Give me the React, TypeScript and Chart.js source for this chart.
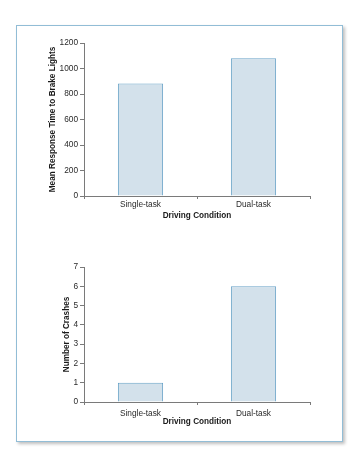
import React, { useEffect, useRef } from "react";
import { Chart, registerables } from "chart.js";

Chart.register(...registerables);

const categories = ["Single-task", "Dual-task"];
const responseTimes = [882, 1080];
const crashes = [1, 6];
const xTitle = "Driving Condition";
const yTitleTop = "Mean Response Time to Brake Lights";
const yTitleBottom = "Number of Crashes";

const FONT = "'Liberation Sans', Arial, Helvetica, sans-serif";

type BoxProps = {
  values: number[];
  yTitle: string;
  yMax: number;
  yStep: number;
  top: number;
  height: number;
  padLeft: number;
  padTop: number;
  padBottom: number;
  yWidth: number;
  xHeight: number;
  xPad: number;
};

function ChartBox(p: BoxProps) {
  const ref = useRef<HTMLCanvasElement | null>(null);
  useEffect(() => {
    if (!ref.current) return;
    const chart = new Chart(ref.current, {
      type: "bar",
      data: {
        labels: categories,
        datasets: [
          {
            data: p.values,
            backgroundColor: "#d3e1eb",
            borderColor: "#6aa4c8",
            borderWidth: 1,
            barPercentage: 0.4,
            categoryPercentage: 1,
          },
        ],
      },
      options: {
        responsive: false,
        animation: false,
        devicePixelRatio: 1,
        layout: {
          padding: { left: p.padLeft, right: 46, top: p.padTop, bottom: p.padBottom },
        },
        plugins: { legend: { display: false }, tooltip: { enabled: false } },
        scales: {
          x: {
            grid: {
              display: true,
              drawOnChartArea: false,
              drawTicks: true,
              tickLength: 3,
              color: "#7a7a7a",
              offset: true,
            },
            border: { color: "#7a7a7a", width: 1 },
            ticks: { color: "#2a2a2a", padding: p.xPad, font: { family: FONT, size: 8.3 } },
            title: {
              display: true,
              text: xTitle,
              color: "#1a1a1a",
              padding: 0,
              font: { family: FONT, size: 8.2, weight: "bold" },
            },
            afterFit: (s: any) => {
              s.height = p.xHeight;
            },
          },
          y: {
            min: 0,
            max: p.yMax,
            grid: {
              display: true,
              drawOnChartArea: false,
              drawTicks: true,
              tickLength: 4,
              color: "#7a7a7a",
            },
            border: { color: "#7a7a7a", width: 1 },
            ticks: {
              stepSize: p.yStep,
              color: "#2a2a2a",
              padding: 2,
              font: { family: FONT, size: 8.3 },
              callback: (v: any) => String(v),
            },
            title: {
              display: true,
              text: p.yTitle,
              color: "#1a1a1a",
              padding: 0,
              font: { family: FONT, size: 8.2, weight: "bold" },
            },
            afterFit: (s: any) => {
              s.width = p.yWidth;
            },
          },
        },
      } as any,
    });
    return () => chart.destroy();
  }, []);
  return (
    <canvas
      ref={ref}
      width={356}
      height={p.height}
      style={{ position: "absolute", left: 0, top: p.top, width: 356, height: p.height }}
    />
  );
}

export default function App() {
  return (
    <div
      style={{
        position: "absolute",
        left: 0,
        top: 0,
        width: 356,
        height: 451,
        background: "#fff",
        overflow: "hidden",
      }}
    >
      <div
        style={{
          position: "absolute",
          left: 16,
          top: 25,
          width: 325,
          height: 415,
          border: "1px solid #92bdd6",
          boxShadow: "2px 2px 3px rgba(0,0,0,0.25)",
          background: "#fff",
        }}
      />
      <ChartBox
        values={responseTimes}
        yTitle={yTitleTop}
        yMax={1200}
        yStep={200}
        top={30}
        height={200}
        padLeft={48}
        padTop={13}
        padBottom={9}
        yWidth={36}
        xHeight={25}
        xPad={1}
      />
      <ChartBox
        values={crashes}
        yTitle={yTitleBottom}
        yMax={7}
        yStep={1}
        top={250}
        height={190}
        padLeft={62}
        padTop={17}
        padBottom={13}
        yWidth={22}
        xHeight={25}
        xPad={4}
      />
    </div>
  );
}
